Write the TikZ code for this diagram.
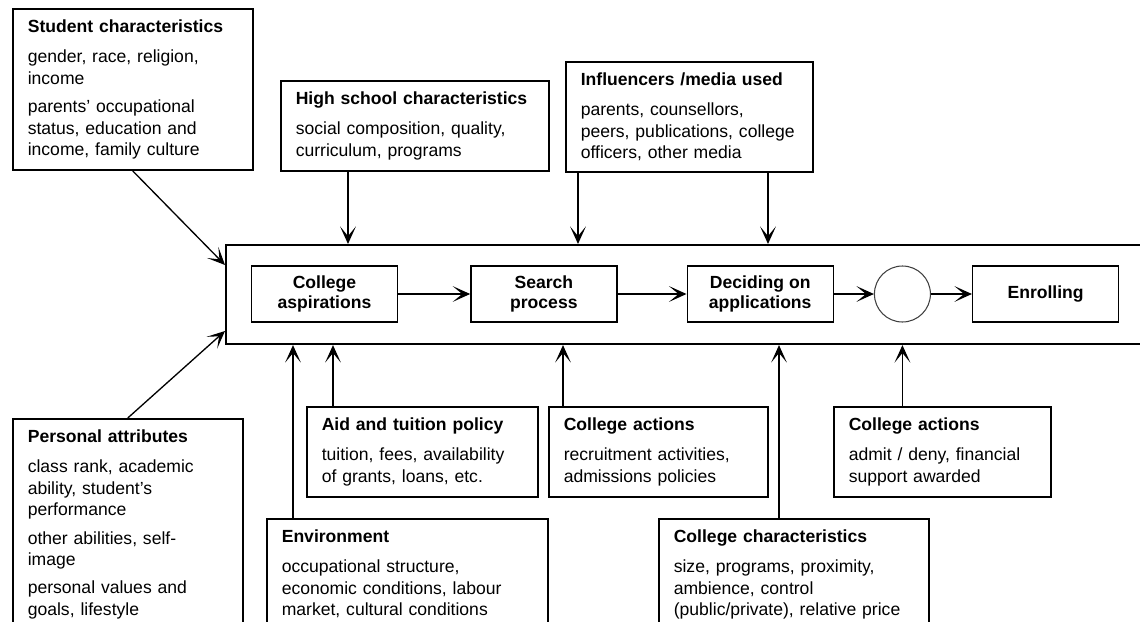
\documentclass[tikz,border=0pt]{standalone}
\usepackage{fontspec}
\setmainfont{Liberation Sans}
\usetikzlibrary{positioning,arrows.meta}

\begin{document}
\begin{tikzpicture}[
    x=0.02cm, y=-0.02cm,
    every node/.style={font=\fontsize{10pt}{12.2pt}\selectfont},
    info/.style={rectangle, draw=black, line width=0.9pt, anchor=north west, align=left, inner xsep=0.3cm, inner ysep=0.22cm},
    stage/.style={rectangle, draw=black, line width=0.8pt, minimum width=2.92cm, minimum height=1.12cm, align=center, font=\fontsize{10pt}{11.6pt}\selectfont\bfseries},
    arrow/.style={-{Stealth[length=10pt,width=9pt,inset=5.5pt]}, line width=0.75pt},
    heavy/.style={arrow, line width=1.3pt}
]
    \useasboundingbox (0,0) rectangle (1140,622);

    % Process frame and stages
    \node[rectangle, draw=black, line width=1.2pt, anchor=north west, minimum width=18.5cm, minimum height=1.98cm] (frame) at (225,244) {};
    \node[stage] (aspire) at (324.5,294) {College\\aspirations};
    \node[stage, right=1.44cm of aspire] (search) {Search\\process};
    \node[stage, right=1.38cm of search] (decide) {Deciding on\\applications};
    \node[circle, draw=black!75, line width=0.6pt, minimum size=1.12cm, right=0.8cm of decide] (admit) {};
    \node[stage, right=0.82cm of admit] (enrol) {Enrolling};

    % Influences above
    \node[info, text width=4.2cm, minimum height=3.2cm] (student) at (12,8) {\textbf{Student characteristics}\\[5pt]gender, race, religion,\\income\\[4pt]parents' occupational\\status, education and\\income, family culture};
    \node[info, text width=4.76cm, minimum height=1.76cm] (hs) at (280,80) {\textbf{High school characteristics}\\[5pt]social composition, quality,\\curriculum, programs};
    \node[info, text width=4.34cm, minimum height=2.14cm] (infl) at (565,61) {\textbf{Influencers /media used}\\[5pt]parents, counsellors,\\peers, publications, college\\officers, other media};

    % Influences below
    \node[info, text width=4.0cm] (personal) at (12,418) {\textbf{Personal attributes}\\[5pt]class rank, academic\\ability, student's\\performance\\[4pt]other abilities, self-\\image\\[4pt]personal values and\\goals, lifestyle};
    \node[info, text width=4.02cm, minimum height=1.74cm] (aid) at (306,406) {\textbf{Aid and tuition policy}\\[5pt]tuition, fees, availability\\of grants, loans, etc.};
    \node[info, text width=5.02cm] (env) at (266,518) {\textbf{Environment}\\[5pt]occupational structure,\\economic conditions, labour\\market, cultural conditions};
    \node[info, text width=3.78cm, minimum height=1.74cm] (recruit) at (548,406) {\textbf{College actions}\\[5pt]recruitment activities,\\admissions policies};
    \node[info, text width=4.8cm] (colchar) at (658,518) {\textbf{College characteristics}\\[5pt]size, programs, proximity,\\ambience, control\\(public/private), relative price};
    \node[info, text width=3.74cm, minimum height=1.74cm] (award) at (833,406) {\textbf{College actions}\\[5pt]admit / deny, financial\\support awarded};

    % Arrows between stages
    \draw[arrow] (aspire) -- (search);
    \draw[arrow] (search) -- (decide);
    \draw[arrow] (decide) -- (admit);
    \draw[arrow] (admit) -- (enrol);

    % Arrows into the frame
    \draw[arrow] (student.south) -- (frame.west |- 0,265);
    \draw[arrow] (personal.north) -- (frame.west |- 0,331);
    \draw[arrow] (hs.south -| 348,0) -- (frame.north -| 348,0);
    \draw[heavy] (infl.south -| 578,0) -- (frame.north -| 578,0);
    \draw[heavy] (infl.south -| 768,0) -- (frame.north -| 768,0);
    \draw[arrow] (env.north -| 293,0) -- (frame.south -| 293,0);
    \draw[arrow] (aid.north -| 333,0) -- (frame.south -| 333,0);
    \draw[arrow] (recruit.north -| 563,0) -- (frame.south -| 563,0);
    \draw[arrow] (colchar.north -| 779,0) -- (frame.south -| 779,0);
    \draw[arrow] (award.north -| admit) -- (frame.south -| admit);

\end{tikzpicture}
\end{document}
